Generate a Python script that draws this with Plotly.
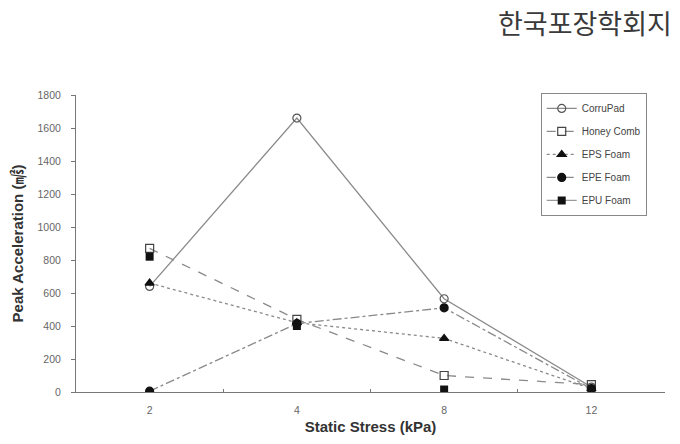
import plotly.graph_objects as go

stress = ["2", "4", "8", "12"]
corrupad = [640, 1660, 565, 30]
honeycomb = [870, 440, 100, 45]
eps_foam = [660, 420, 325, 20]
epe_foam = [5, 415, 510, 20]
epu_foam = [820, 400, 15, 15]
y_ticks = [0, 200, 400, 600, 800, 1000, 1200, 1400, 1600, 1800]

series = [
    ("CorruPad", corrupad, "solid", "#8a8a8a", "circle-open", "#555555"),
    ("Honey Comb", honeycomb, "dash", "#8a8a8a", "square-open", "#444444"),
    ("EPS Foam", eps_foam, "dot", "#8a8a8a", "triangle-up", "#111111"),
    ("EPE Foam", epe_foam, "dashdot", "#8a8a8a", "circle", "#111111"),
]

fig = go.Figure()
for name, vals, dash, lc, sym, mc in series:
    fig.add_trace(go.Scatter(
        x=stress, y=vals, name=name, mode="lines+markers",
        line=dict(color=lc, width=1.3, dash=dash),
        marker=dict(symbol=sym, size=8, color=mc, line=dict(color=mc, width=1.2)),
        legendgroup=name,
    ))

# EPU Foam: markers only in the plot (its line is not visible in the reference)
fig.add_trace(go.Scatter(
    x=stress, y=epu_foam, name="EPU Foam", mode="markers",
    marker=dict(symbol="square", size=8, color="#111111"),
    legendgroup="EPU Foam", showlegend=False,
))
fig.add_trace(go.Scatter(
    x=[None], y=[None], name="EPU Foam", mode="lines+markers",
    line=dict(color="#9a9a9a", width=1.3),
    marker=dict(symbol="square", size=8, color="#111111"),
    legendgroup="EPU Foam",
))

fig.update_layout(
    width=680, height=444,
    margin=dict(l=76, r=15, t=95, b=50),
    paper_bgcolor="white", plot_bgcolor="white",
    font=dict(family="Liberation Sans, Arial, sans-serif", color="#555555", size=10),
    showlegend=True,
    legend=dict(
        x=0.789, y=1.007, xanchor="left", yanchor="top",
        bordercolor="#888888", borderwidth=1, bgcolor="white",
        font=dict(size=10, color="#444444"),
        traceorder="grouped", tracegroupgap=4,
    ),
    xaxis=dict(
        type="category", range=[-0.5, 3.5],
        showline=True, linecolor="#777777", linewidth=1,
        showgrid=False, zeroline=False,
        ticks="inside", ticklen=3, tickcolor="#777777", tickson="boundaries",
        ticklabelstandoff=8,
        tickfont=dict(size=10.5, color="#666666"),
        title=dict(text="<b>Static Stress (kPa)</b>", font=dict(size=15, color="#333333"), standoff=6),
    ),
    yaxis=dict(
        range=[0, 1800], tickvals=y_ticks,
        showline=True, linecolor="#777777", linewidth=1,
        showgrid=False, zeroline=False,
        ticks="outside", ticklen=4, tickcolor="#777777",
        ticklabelstandoff=8,
        tickfont=dict(size=10.5, color="#666666"),
        title=dict(
            text="<b>Peak Acceleration (<span style=\"font-family:'Noto Sans CJK KR'\">㎨</span>)</b>",
            font=dict(size=15, color="#333333"), standoff=10,
        ),
    ),
)

fig.add_annotation(
    text="한국포장학회지", xref="paper", yref="paper",
    x=(674 - 76) / 589, y=1 + (95 - 0) / 299, xanchor="right", yanchor="top",
    showarrow=False, font=dict(family="Noto Sans CJK KR", size=27, color="#3a3a3a"),
)

fig.write_html("out.html")
